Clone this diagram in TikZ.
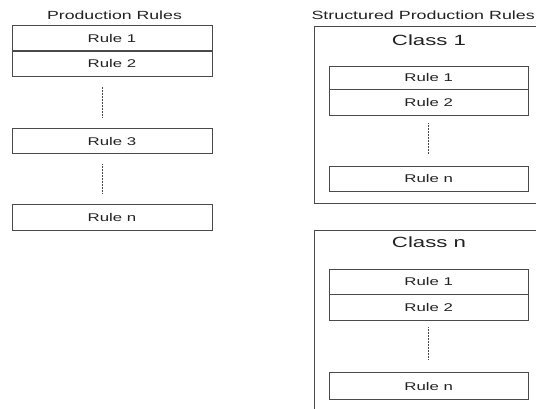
\documentclass[tikz,border=0pt]{standalone}
\usepackage{fontspec}
\setmainfont{Liberation Sans}[FakeStretch=1.5]
\usetikzlibrary{positioning}
\definecolor{linecol}{HTML}{4A4A4A}
\definecolor{textcol}{HTML}{222222}
\tikzset{
  rulebox/.style={draw=linecol, line width=0.8pt, rectangle, inner sep=0pt,
    minimum width=200pt, minimum height=25.5pt, text=textcol,
    font=\fontsize{11.2}{11.2}\selectfont},
  classbox/.style={draw=linecol, line width=0.8pt, rectangle, inner sep=0pt},
  titletext/.style={text=textcol, inner sep=0pt, font=\fontsize{11.8}{11.8}\selectfont},
  classtext/.style={text=textcol, inner sep=0pt, font=\fontsize{14.8}{14.8}\selectfont},
  dots/.style={draw=linecol, line width=0.7pt, dash pattern=on 0.6pt off 0.9pt}
}
\begin{document}
\begin{tikzpicture}[x=1pt, y=-1pt]
\useasboundingbox (0,0) rectangle (536,408);
\clip (0,0) rectangle (536,408);
% Left column
\node[titletext] (t1) at (114.5,15) {Production Rules};
\node[rulebox] (l1) at (112,38.25) {Rule 1};
\node[rulebox] (l2) at (112,63.5) {Rule 2};
\node[rulebox] (l3) at (112,141) {Rule 3};
\node[rulebox] (l4) at (112,217.5) {Rule n};
\draw[dots, shorten <=10pt, shorten >=11pt] (l2.south -| 102.7,0) -- (l3.north -| 102.7,0);
\draw[dots, shorten <=10pt, shorten >=11pt] (l3.south -| 102.7,0) -- (l4.north -| 102.7,0);
% Right column
\node[titletext, anchor=east, font=\fontsize{11.9}{11.9}\selectfont] (t2) at (535,15) {Structured Production Rules};
\node[classbox, minimum width=250pt, minimum height=176.6pt] (c1) at (439,115) {};
\node[classtext] (c1t) at (429,40.5) {Class 1};
\node[rulebox, minimum width=199.3pt, minimum height=23.3pt] (a1) at (428.7,77.65) {Rule 1};
\node[rulebox, minimum width=199.3pt, minimum height=25.7pt] (a2) at (428.7,102.15) {Rule 2};
\node[rulebox, minimum width=199.3pt, minimum height=25.7pt] (a3) at (428.7,178.85) {Rule n};
\draw[dots, shorten <=8pt, shorten >=12pt] (a2.south -| 428.3,0) -- (a3.north -| 428.3,0);
\node[classbox, minimum width=250pt, minimum height=200pt] (c2) at (439,330.7) {};
\node[classtext] (c2t) at (429,242.5) {Class n};
\node[rulebox, minimum width=199.3pt, minimum height=25pt] (b1) at (428.7,281.8) {Rule 1};
\node[rulebox, minimum width=199.3pt, minimum height=25.7pt] (b2) at (428.7,307.15) {Rule 2};
\node[rulebox, minimum width=199.3pt, minimum height=26.6pt] (b3) at (428.7,386) {Rule n};
\draw[dots, shorten <=7pt, shorten >=13pt] (b2.south -| 428.3,0) -- (b3.north -| 428.3,0);
\end{tikzpicture}
\end{document}
